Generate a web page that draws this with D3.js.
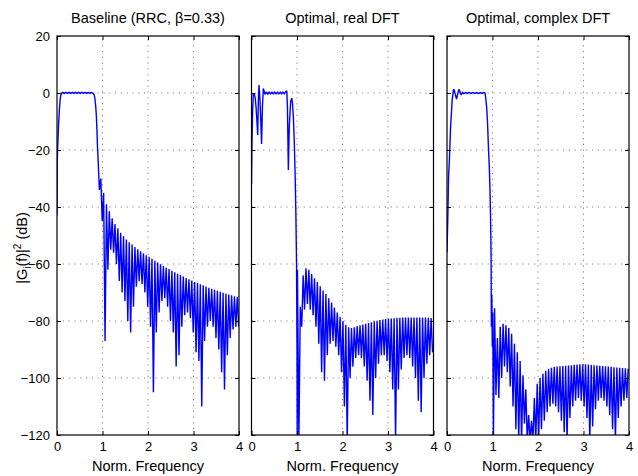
<!DOCTYPE html>
<html>
<head>
<meta charset="utf-8">
<script src="https://cdn.jsdelivr.net/npm/d3@7/dist/d3.min.js"></script>
<style>
  html, body { margin: 0; padding: 0; background: #fff; }
  svg { display: block; font-family: "Liberation Sans", Arial, Helvetica, sans-serif; }
</style>
</head>
<body>
<svg id="chart" width="638" height="476"></svg>
<script>
// ---------------- DATA ----------------
const titles = ["Baseline (RRC, \u03B2=0.33)", "Optimal, real DFT", "Optimal, complex DFT"];
const xTicks = [0, 1, 2, 3, 4];
const yTicks = [20, 0, -20, -40, -60, -80, -100, -120];
const xLabel = "Norm. Frequency";
const rippleStep = 0.0625;   // spacing of stopband lobes (normalised frequency)

// Panel 1 : Baseline RRC
const p1Pass = [[0,-43],[0.008,-22],[0.02,-17],[0.035,-11],[0.05,-6.5],[0.065,-3],[0.08,-1],[0.1,-0.1],
  [0.125,0.2],[0.16,-0.15],[0.195,0.2],[0.23,-0.15],[0.265,0.2],[0.3,-0.15],[0.335,0.2],[0.37,-0.15],
  [0.405,0.2],[0.44,-0.15],[0.475,0.2],[0.51,-0.15],[0.545,0.2],[0.58,-0.15],[0.615,0.2],[0.65,-0.15],
  [0.685,0.2],[0.72,-0.15],[0.755,0.2],[0.79,-0.1],[0.81,-0.4],[0.83,-1.5],[0.85,-4.5],[0.865,-8],
  [0.878,-13],[0.89,-19]];
const p1Start = 0.9;
const p1Peaks = [-22,-30,-35,-39,-41.5,-44,-46,-47.5,-49,-50.3,-51.4,-52.4,-53.2,-54,-54.8,-55.5,-56.2,
  -56.9,-57.5,-58.2,-58.9,-59.5,-60.1,-60.7,-61.3,-61.8,-62.4,-62.9,-63.4,-63.9,-64.4,-64.9,-65.4,-65.8,
  -66.3,-66.7,-67.1,-67.5,-67.9,-68.3,-68.7,-69,-69.4,-69.7,-70.1,-70.4,-70.7,-71,-71.3,-71.6];
const p1Nulls = [-34,-45,-87,-62,-55,-56,-60,-66,-70,-73,-80,-84,-75,-68,-66,-67,-70,-75,-82,-105,-84,
  -77,-73,-72,-75,-80,-84,-96,-92,-82,-78,-77,-79,-84,-91,-94,-110,-87,-82,-80,-82,-86,-90,-98,-104,
  -92,-86,-83,-82,-82];

// Panel 2 : Optimal, real DFT
const p2Pass = [[0,-32],[0.01,-18],[0.025,-6],[0.04,-0.5],[0.06,-0.3],[0.08,-1.5],[0.1,-5],[0.12,-10],
  [0.136,-14.7],[0.15,-3],[0.165,2.8],[0.185,-2],[0.2,-8],[0.222,-17.9],[0.24,-5],[0.26,1.6],[0.28,0.5],
  [0.3,-0.5],[0.33,0.4],[0.36,-0.4],[0.39,0.3],[0.42,-0.3],[0.45,0.3],[0.48,-0.3],[0.51,0.3],[0.54,-0.3],
  [0.57,0.3],[0.6,-0.3],[0.63,0.3],[0.66,-0.3],[0.69,0.3],[0.72,-0.3],[0.75,0.4],[0.775,0.8],[0.79,-5],
  [0.81,-27],[0.83,-12],[0.86,-3],[0.885,-1.8],[0.9,-3.5],[0.92,-8.4],[0.94,-17],[0.96,-29.4],
  [0.975,-42],[0.99,-60],[1.0,-90],[1.004,-122]];
const p2Start = 1.01;
const p2Peaks = [-62,-75,-64,-61.5,-62,-63.5,-65,-66.3,-67.8,-69.3,-70.5,-72,-73.5,-75.3,-77,-78.5,-80,
  -81.3,-82.2,-82.5,-82.2,-81.8,-81.5,-81.2,-81,-80.7,-80.4,-80.1,-79.9,-79.7,-79.5,-79.3,-79.2,-79.1,
  -79,-78.9,-78.9,-78.8,-78.8,-78.8,-78.8,-78.8,-78.8,-78.8,-78.8,-78.8,-78.9,-79];
const p2Nulls = [-122,-82,-76,-74,-76,-78,-82,-88,-98,-101,-92,-88,-87,-89,-92,-98,-110,-122,-100,-96,
  -93,-92,-93,-96,-101,-108,-113,-100,-95,-92,-92,-94,-98,-104,-122,-104,-97,-93,-92,-93,-96,-100,-108,
  -112,-100,-95,-92,-91];

// Panel 3 : Optimal, complex DFT
const p3Pass = [[0,-56],[0.02,-42],[0.035,-29],[0.05,-24.6],[0.08,-11.5],[0.115,-2.3],[0.14,1.0],
  [0.155,1.3],[0.18,-0.4],[0.21,-2.1],[0.24,0],[0.265,1.3],[0.29,0.2],[0.31,-0.7],[0.34,0.2],[0.37,-0.2],
  [0.41,0.15],[0.45,-0.15],[0.49,0.15],[0.53,-0.15],[0.57,0.15],[0.61,-0.15],[0.65,0.15],[0.69,-0.15],
  [0.73,0.15],[0.77,-0.15],[0.81,0.15],[0.835,0],[0.85,-1.5],[0.87,-4.7],[0.89,-10],[0.91,-18.8],
  [0.93,-26],[0.945,-34],[0.96,-46],[0.97,-58.6],[0.975,-82],[0.985,-71],[0.995,-89],[1.005,-77],
  [1.02,-122]];
const p3Start = 1.045;
const p3Peaks = [-75.5,-86,-82,-81,-81.5,-82.5,-84.5,-88,-91,-94,-99,-104,-113,-115,-107,-102,-100,-98.5,
  -97.5,-96.8,-96.4,-96.1,-96,-95.9,-95.8,-95.7,-95.6,-95.5,-95.4,-95.3,-95.2,-95.2,-95.2,-95.3,-95.4,
  -95.5,-95.6,-95.7,-95.8,-95.9,-96,-96.1,-96.2,-96.3,-96.4,-96.5,-96.6,-96.7];
const p3Nulls = [-106,-107,-100,-96,-98,-103,-110,-118,-122,-122,-116,-122,-122,-122,-122,-122,-118,-115,
  -112,-110,-109,-110,-112,-115,-119,-122,-114,-110,-108,-107,-108,-110,-114,-122,-117,-111,-108,-107,
  -108,-110,-113,-118,-122,-114,-110,-108,-107];

// ---------------- LAYOUT ----------------
const svg = d3.select("#chart");
const plotTop = 36, plotBottom = 435;
const panelX = [[57, 239], [251.5, 433.5], [447, 629]];
const series = [
  {pass: p1Pass, start: p1Start, peaks: p1Peaks, nulls: p1Nulls},
  {pass: p2Pass, start: p2Start, peaks: p2Peaks, nulls: p2Nulls},
  {pass: p3Pass, start: p3Start, peaks: p3Peaks, nulls: p3Nulls}
];

const y = d3.scaleLinear().domain([-120, 20]).range([plotBottom, plotTop]);

function buildPoints(s) {
  const pts = s.pass.slice();
  s.peaks.forEach((v, i) => {
    pts.push([s.start + i * rippleStep, v]);
    if (i < s.nulls.length) pts.push([s.start + (i + 0.5) * rippleStep, s.nulls[i]]);
  });
  return pts;
}

series.forEach((s, k) => {
  const [x0, x1] = panelX[k];
  const x = d3.scaleLinear().domain([0, 4]).range([x0, x1]);
  const g = svg.append("g");

  // clip
  const clipId = "clip" + k;
  svg.append("clipPath").attr("id", clipId)
    .append("rect").attr("x", x0).attr("y", plotTop).attr("width", x1 - x0).attr("height", plotBottom - plotTop);

  // grid
  const grid = g.append("g").attr("stroke", "#808080").attr("stroke-width", 1).attr("stroke-dasharray", "1.2,4.6");
  xTicks.slice(1, -1).forEach(t => {
    grid.append("line").attr("x1", x(t)).attr("x2", x(t)).attr("y1", plotBottom).attr("y2", plotTop);
  });
  yTicks.slice(1, -1).forEach(t => {
    grid.append("line").attr("x1", x0).attr("x2", x1).attr("y1", y(t)).attr("y2", y(t));
  });

  // curve
  const pts = buildPoints(s);
  g.append("path")
    .attr("clip-path", "url(#" + clipId + ")")
    .attr("d", d3.line().x(d => x(d[0])).y(d => y(Math.max(d[1], -125)))(pts))
    .attr("fill", "none").attr("stroke", "#0000ff").attr("stroke-width", 1.4)
    .attr("stroke-linejoin", "miter").attr("stroke-miterlimit", 2);

  // axes via d3 (ticks inward, on all sides)
  const tickLen = 4;
  const axB = g.append("g").attr("transform", `translate(0,${plotBottom})`)
    .call(d3.axisBottom(x).tickValues(xTicks).tickSize(-tickLen).tickPadding(7).tickFormat(d3.format("d")));
  const axT = g.append("g").attr("transform", `translate(0,${plotTop})`)
    .call(d3.axisTop(x).tickValues(xTicks).tickSize(-tickLen).tickFormat(""));
  const axL = g.append("g").attr("transform", `translate(${x0},0)`)
    .call(d3.axisLeft(y).tickValues(yTicks).tickSize(-tickLen).tickPadding(7)
      .tickFormat(k === 0 ? (d => (d < 0 ? "\u2212" + (-d) : d)) : ""));
  const axR = g.append("g").attr("transform", `translate(${x1},0)`)
    .call(d3.axisRight(y).tickValues(yTicks).tickSize(-tickLen).tickFormat(""));
  [axB, axT, axL, axR].forEach(a => {
    a.select(".domain").remove();
    a.selectAll(".tick line").attr("stroke", "#000").attr("stroke-width", 1);
    a.selectAll("text").attr("font-size", 13).attr("fill", "#000")
      .attr("font-family", "'Liberation Sans', Arial, sans-serif");
  });
  axB.selectAll("text").attr("dy", "0.71em");

  // box
  g.append("rect").attr("x", x0).attr("y", plotTop).attr("width", x1 - x0).attr("height", plotBottom - plotTop)
    .attr("fill", "none").attr("stroke", "#000").attr("stroke-width", 1.2);

  // title
  g.append("text").attr("x", (x0 + x1) / 2).attr("y", 23).attr("text-anchor", "middle")
    .attr("font-size", 14.5).attr("fill", "#000").text(titles[k]);

  // x label
  g.append("text").attr("x", (x0 + x1) / 2).attr("y", 471).attr("text-anchor", "middle")
    .attr("font-size", 14.5).attr("fill", "#000").text(xLabel);
});

// y label
const yl = svg.append("text").attr("transform", "translate(27,248) rotate(-90)")
  .attr("text-anchor", "middle").attr("font-size", 14.5).attr("fill", "#000");
yl.append("tspan").text("|G");
yl.append("tspan").attr("font-size", 10).attr("dy", 4).text("i");
yl.append("tspan").attr("dy", -4).text("(f)|");
yl.append("tspan").attr("font-size", 10).attr("dy", -6).text("2");
yl.append("tspan").attr("dy", 6).text(" (dB)");
</script>
</body>
</html>
